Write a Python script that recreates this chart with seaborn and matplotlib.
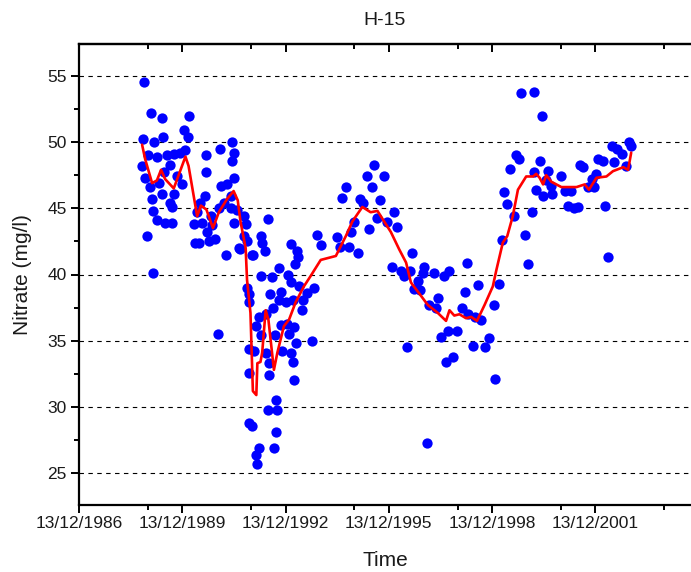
import numpy as np
import pandas as pd
import matplotlib
matplotlib.use("Agg")
import matplotlib.pyplot as plt
import matplotlib.dates as mdates
from matplotlib.ticker import FixedLocator, MultipleLocator, NullFormatter
import seaborn as sns

# ---------------- data (decimal years, nitrate mg/l) ----------------
point_years = [
    1988.84, 1989.04, 1989.36, 1990.13, 1988.81, 1989.13, 1989.38, 1989.99, 1990.10, 1991.04,
    1991.40, 1991.44, 1991.40, 1990.64, 1988.78, 1988.96, 1989.21, 1989.50, 1989.70, 1989.89,
    1990.04, 1988.87, 1989.02, 1989.26, 1989.41, 1989.60, 1989.80, 1989.94, 1989.36, 1989.70,
    1989.60, 1989.07, 1989.65, 1989.11, 1989.21, 1989.45, 1989.65, 1988.92, 1989.10, 1990.65,
    1990.62, 1990.47, 1990.38, 1990.28, 1990.52, 1990.77, 1990.82, 1990.67, 1990.33, 1990.43,
    1990.72, 1990.91, 1991.06, 1991.25, 1991.44, 1991.35, 1991.15, 1991.01, 1991.35, 1991.54,
    1991.44, 1991.74, 1991.79, 1991.74, 1991.64, 1991.83, 1991.98, 1991.23, 1990.98,
    1992.45, 1992.25, 1992.27, 1992.35, 1992.00, 1991.59, 1993.10, 1993.29, 1993.32, 1993.22,
    1993.87, 1993.97, 1992.76, 1992.56, 1992.25, 1993.03, 1993.10, 1993.34, 1993.78, 1993.58,
    1991.83, 1991.88, 1991.90, 1992.49, 1992.81, 1992.76, 1992.95, 1993.15, 1993.44, 1993.42,
    1992.58, 1992.17, 1992.08, 1992.81, 1993.00, 1993.19, 1992.37, 1992.25, 1992.64, 1993.05,
    1993.24, 1993.73, 1991.90, 1992.03, 1992.37, 1992.85, 1993.10, 1992.46, 1993.15, 1991.90,
    1992.46, 1993.19, 1992.66, 1992.71, 1992.45, 1991.90, 1991.98, 1992.68, 1992.17, 1992.61,
    1992.10, 1992.13,
    1995.52, 1995.31, 1995.80, 1994.70, 1994.60, 1995.45, 1995.12, 1995.21, 1995.70, 1996.11,
    1995.62, 1995.91, 1996.20, 1994.94, 1994.86, 1995.38, 1994.44, 1994.53, 1994.79, 1995.04,
    1996.61, 1996.04, 1996.30, 1996.57, 1996.38, 1996.96, 1996.93, 1997.25, 1997.56, 1997.71,
    1998.22, 1998.53, 1998.16, 1996.80, 1996.69, 1996.86, 1997.37, 1997.12, 1997.32, 1998.07,
    1998.26, 1998.46, 1998.63, 1999.00, 1997.47, 1997.66, 1997.93, 1996.48, 1998.39, 1998.73,
    1998.87, 1997.61, 1997.81, 1999.02, 1997.05, 1999.16,
    1999.80, 2000.17, 2000.41, 1999.65, 1999.72, 1999.48, 2000.33, 2000.18, 2000.57, 2000.96,
    2000.52, 2000.67, 2000.23, 2000.43, 2000.69, 2001.06, 2001.23, 2001.49, 2001.59, 2001.16,
    2001.33, 2001.45, 2001.72, 2001.91, 2001.84, 2001.98, 2002.03, 2002.18, 2002.50, 2002.42,
    2002.59, 2002.73, 2002.92, 2002.98, 2002.85, 2002.24, 2002.32, 1999.29, 1999.39, 1999.58,
    1999.23, 1999.91, 2000.11, 1999.99,
]
point_nitrate = [
    54.5, 52.2, 51.8, 52.0, 50.2, 50.0, 50.4, 50.9, 50.4, 49.5,
    50.0, 49.2, 48.6, 49.0, 48.2, 49.0, 48.9, 49.0, 49.1, 49.2,
    49.4, 47.3, 46.6, 46.9, 47.7, 48.3, 47.4, 46.8, 46.1, 46.1,
    45.4, 45.7, 45.1, 44.8, 44.1, 43.9, 43.9, 42.9, 40.1, 47.7,
    45.9, 45.4, 44.7, 43.8, 43.9, 44.4, 43.7, 43.2, 42.4, 42.4,
    42.5, 42.7, 46.7, 46.8, 47.3, 45.9, 45.4, 45.0, 45.0, 44.9,
    43.9, 44.4, 43.8, 42.9, 41.9, 42.5, 41.5, 41.5, 35.5,
    44.2, 42.9, 42.4, 41.8, 41.5, 42.0, 42.3, 41.8, 41.3, 40.8,
    43.0, 42.2, 40.5, 39.8, 39.9, 40.0, 39.4, 39.1, 39.0, 38.6,
    39.0, 38.5, 37.9, 38.5, 38.7, 38.1, 37.9, 38.1, 38.1, 37.3,
    37.5, 36.8, 36.1, 36.2, 36.3, 36.0, 37.0, 35.4, 35.4, 35.5,
    34.8, 35.0, 34.4, 34.2, 34.1, 34.2, 34.1, 33.3, 33.4, 32.6,
    32.4, 32.0, 30.5, 29.8, 29.8, 28.8, 28.6, 28.1, 26.9, 26.9,
    26.4, 25.7,
    48.3, 47.4, 47.4, 46.6, 45.8, 46.6, 45.7, 45.4, 45.6, 44.7,
    44.3, 44.0, 43.6, 44.0, 43.2, 43.4, 42.8, 42.1, 42.1, 41.6,
    41.6, 40.6, 40.3, 40.3, 39.9, 40.6, 40.1, 40.1, 39.9, 40.3,
    40.9, 39.2, 38.7, 39.5, 38.9, 38.8, 38.2, 37.7, 37.5, 37.5,
    37.0, 36.8, 36.6, 37.7, 35.3, 35.7, 35.7, 34.5, 34.6, 34.5,
    35.2, 33.4, 33.8, 32.1, 27.3, 39.3,
    53.7, 53.8, 52.0, 49.0, 48.7, 47.95, 48.6, 47.7, 47.8, 47.4,
    47.1, 46.7, 46.4, 45.9, 46.1, 46.3, 46.3, 48.3, 48.1, 45.2,
    45.0, 45.1, 46.6, 46.6, 47.2, 47.6, 48.7, 48.6, 48.5, 49.7,
    49.5, 49.1, 50.0, 49.7, 48.2, 45.2, 41.3, 46.2, 45.3, 44.4,
    42.6, 42.95, 44.7, 40.8,
]

line_years = [
    1988.78, 1988.87, 1989.07, 1989.21, 1989.33, 1989.45, 1989.70, 1990.04, 1990.13, 1990.38,
    1990.49, 1990.65, 1990.84, 1991.01, 1991.25, 1991.44, 1991.56, 1991.64, 1991.79, 1991.83,
    1991.93, 1992.00, 1992.10, 1992.13, 1992.22, 1992.27, 1992.37, 1992.45, 1992.61, 1992.71,
    1992.90, 1993.05, 1993.24, 1993.48, 1993.68, 1993.97, 1994.41, 1994.70, 1994.89, 1995.18,
    1995.42, 1995.62, 1996.01, 1996.25, 1996.45, 1996.59, 1996.88, 1997.08, 1997.37, 1997.61,
    1997.71, 1997.85, 1998.00, 1998.19, 1998.34, 1998.51, 1998.73, 1998.97, 1999.07, 1999.26,
    1999.39, 1999.55, 1999.70, 1999.94, 2000.14, 2000.23, 2000.33, 2000.43, 2000.52, 2000.67,
    2000.96, 2001.40, 2001.64, 2001.76, 2001.98, 2002.27, 2002.46, 2002.76, 2002.90, 2002.99,
]
line_nitrate = [
    49.8, 48.7, 46.9, 47.1, 47.9, 47.2, 46.5, 48.9, 48.2, 44.4,
    45.2, 44.9, 43.5, 44.7, 45.7, 46.3, 45.6, 44.0, 42.0, 39.6,
    37.1, 31.2, 30.9, 33.3, 33.4, 34.1, 37.3, 36.6, 32.8, 34.1,
    36.1, 36.6, 37.9, 39.1, 39.9, 41.1, 41.4, 42.9, 44.0, 45.1,
    44.7, 44.8, 43.2, 41.9, 40.9, 39.4, 38.4, 37.7, 37.1, 36.5,
    37.3, 36.9, 37.0, 36.7, 36.8, 36.5, 37.7, 39.1, 40.3, 42.4,
    42.9, 44.4, 46.4, 47.4, 47.4, 47.6, 47.3, 46.8, 47.5, 47.0,
    46.6, 46.6, 46.8, 46.4, 47.3, 47.4, 47.8, 48.1, 47.9, 49.2,
]

tick_years = [1986, 1989, 1992, 1995, 1998, 2001]
minor_tick_years = [1988, 1991, 1994, 1997, 2000, 2003]
y_ticks = [25, 30, 35, 40, 45, 50, 55]


def to_date(y):
    yr = int(np.floor(y))
    start = pd.Timestamp(yr, 1, 1)
    end = pd.Timestamp(yr + 1, 1, 1)
    return start + (end - start) * (y - yr)


pts = pd.DataFrame({"Time": [to_date(v) for v in point_years], "Nitrate": point_nitrate})
ln = pd.DataFrame({"Time": [to_date(v) for v in line_years], "Nitrate": line_nitrate})

sns.set_style("white")
plt.rcParams["font.family"] = ["Liberation Sans", "DejaVu Sans"]

fig = plt.figure(figsize=(6.91, 5.72), dpi=100)
ax = fig.add_axes([79 / 691, 1 - 505 / 572, 1 - 79 / 691, (505 - 44) / 572])

sns.scatterplot(data=pts, x="Time", y="Nitrate", ax=ax, color="#0000FF", s=55,
                linewidth=0, zorder=3, legend=False)
sns.lineplot(data=ln, x="Time", y="Nitrate", ax=ax, color="#FF0000", linewidth=1.9,
             zorder=4, legend=False, estimator=None, sort=False)

x0 = pd.Timestamp(1986, 12, 13)
x1 = x0 + pd.Timedelta(days=6494)
ax.set_xlim(mdates.date2num(x0), mdates.date2num(x1))
ax.set_ylim(22.6, 57.4)

major = [mdates.date2num(pd.Timestamp(y, 12, 13)) for y in tick_years]
minor = [mdates.date2num(pd.Timestamp(y, 12, 13)) for y in minor_tick_years]
ax.xaxis.set_major_locator(FixedLocator(major))
ax.xaxis.set_minor_locator(FixedLocator(minor))
ax.xaxis.set_major_formatter(mdates.DateFormatter("%d/%m/%Y"))
ax.yaxis.set_major_locator(FixedLocator(y_ticks))
ax.yaxis.set_minor_locator(MultipleLocator(2.5))

ax.grid(axis="y", which="major", color="black", linestyle=(0, (4, 4)), linewidth=0.8)
ax.grid(axis="x", visible=False)
ax.set_axisbelow(True)

for side in ["left", "bottom", "top"]:
    ax.spines[side].set_linewidth(1.6)
    ax.spines[side].set_color("black")
ax.spines["right"].set_visible(False)

ax.tick_params(axis="x", which="both", bottom=True, top=False)
ax.tick_params(axis="y", which="both", left=True, right=False)
ax.tick_params(axis="both", which="major", direction="out", length=6, width=1.4,
               color="black", labelsize=12.5, labelcolor="#1a1a1a")
ax.tick_params(axis="both", which="minor", direction="out", length=3.5, width=1.4, color="black")
ax.tick_params(axis="x", which="major", pad=2)
ax.tick_params(axis="y", which="major", pad=3)

sec = ax.secondary_xaxis("top")
sec.xaxis.set_major_locator(FixedLocator(major))
sec.xaxis.set_minor_locator(FixedLocator(minor))
sec.xaxis.set_major_formatter(NullFormatter())
sec.tick_params(axis="x", which="both", top=True, bottom=False)
sec.tick_params(axis="x", which="major", direction="in", length=6, width=1.4, color="black")
sec.tick_params(axis="x", which="minor", direction="in", length=3.5, width=1.4, color="black")
sec.spines["top"].set_linewidth(1.6)

ax.set_xlabel("Time", fontsize=15, color="#1a1a1a")
ax.set_ylabel("Nitrate (mg/l)", fontsize=15, color="#1a1a1a")
ax.xaxis.set_label_coords(0.5, -0.100)
ax.yaxis.set_label_coords(-0.077, 0.5)
ax.set_title("H-15", fontsize=14, color="#1a1a1a", pad=14)

fig.savefig("out.png", dpi=100)
